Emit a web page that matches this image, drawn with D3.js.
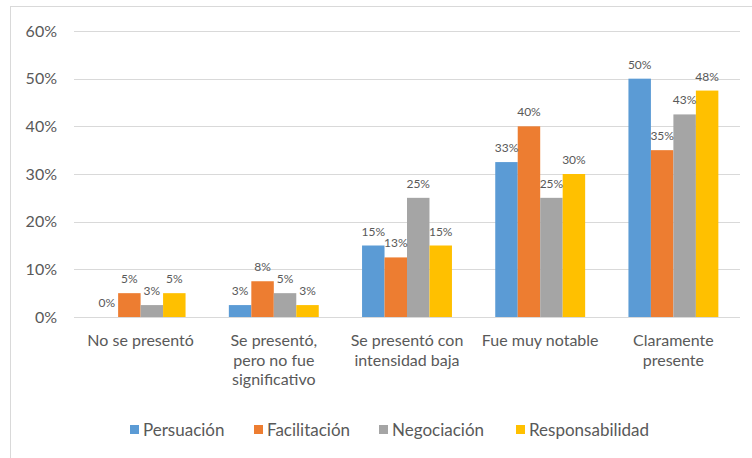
<!DOCTYPE html>
<html><head><meta charset="utf-8">
<script src="https://cdn.jsdelivr.net/npm/d3@7"></script>
<style>
html,body{margin:0;padding:0;background:#fff;}
svg text{font-family:Lato,"Open Sans",sans-serif;fill:#595959;}
</style></head>
<body>
<svg id="chart" width="752" height="458"></svg>
<script>
const categories = [
  ["No se presentó"],
  ["Se presentó,", "pero no fue", "significativo"],
  ["Se presentó con", "intensidad baja"],
  ["Fue muy notable"],
  ["Claramente", "presente"]
];
const seriesNames = ["Persuación", "Facilitación", "Negociación", "Responsabilidad"];
const persuacion = [0, 2.5, 15, 32.5, 50];
const facilitacion = [5, 7.5, 12.5, 40, 35];
const negociacion = [2.5, 5, 25, 25, 42.5];
const responsabilidad = [5, 2.5, 15, 30, 47.5];
const yTicks = [0, 10, 20, 30, 40, 50, 60];
const colors = ["#5B9BD5", "#ED7D31", "#A5A5A5", "#FFC000"];

const seriesValues = [persuacion, facilitacion, negociacion, responsabilidad];
const svg = d3.select("#chart");
const FONT = 'Lato,"Open Sans",sans-serif';

// outer chart border
svg.append("rect").attr("x", 10.5).attr("y", 6.5).attr("width", 800).attr("height", 500)
  .attr("fill", "none").attr("stroke", "#D9D9D9").attr("stroke-width", 1);

const plot = {left: 74, right: 740, top: 31, bottom: 317};
const catIdx = categories.map((d, i) => i);
const x0 = d3.scaleBand().domain(catIdx).range([plot.left, plot.right])
  .paddingInner(0.325).paddingOuter(0.1625);
const x1 = d3.scaleBand().domain(d3.range(seriesNames.length)).range([0, x0.bandwidth()]).padding(0);
const y = d3.scaleLinear().domain([0, 60]).range([plot.bottom, plot.top]);

// gridlines
svg.append("g").selectAll("line").data(yTicks).join("line")
  .attr("x1", plot.left).attr("x2", plot.right)
  .attr("y1", d => Math.round(y(d)) + 0.5).attr("y2", d => Math.round(y(d)) + 0.5)
  .attr("stroke", "#D9D9D9").attr("stroke-width", 1);

// y axis labels
const yAxis = d3.axisLeft(y).tickValues(yTicks).tickFormat(d => d + "%").tickSize(0).tickPadding(0);
const gy = svg.append("g").attr("transform", `translate(57,0)`).call(yAxis);
gy.select(".domain").remove();
gy.selectAll("text").attr("font-size", "16px").style("fill", "#595959")
  .style("font-family", FONT);

// bars
const groups = svg.append("g").selectAll("g").data(catIdx).join("g")
  .attr("transform", d => `translate(${x0(d)},0)`);
groups.selectAll("rect").data(ci => seriesValues.map((s, si) => ({si, v: s[ci]}))).join("rect")
  .attr("x", d => x1(d.si)).attr("width", x1.bandwidth())
  .attr("y", d => y(d.v)).attr("height", d => y(0) - y(d.v))
  .attr("fill", d => colors[d.si]);

// value labels
groups.selectAll("text").data(ci => seriesValues.map((s, si) => ({si, v: s[ci]}))).join("text")
  .attr("x", d => x1(d.si) + x1.bandwidth() / 2).attr("y", d => y(d.v) - 10)
  .attr("text-anchor", "middle").attr("font-size", "12px")
  .text(d => Math.round(d.v) + "%");

// x axis labels
const xl = svg.append("g").selectAll("text").data(catIdx).join("text")
  .attr("x", d => x0(d) + x0.bandwidth() / 2).attr("y", 346)
  .attr("text-anchor", "middle").attr("font-size", "16px");
xl.selectAll("tspan").data(d => categories[d]).join("tspan")
  .attr("x", function() { return d3.select(this.parentNode).attr("x"); })
  .attr("dy", (d, i) => i === 0 ? 0 : 19.5).text(d => d);

// legend
const legendX = [130, 254, 379, 516];
const lg = svg.append("g").selectAll("g").data(seriesNames).join("g")
  .attr("transform", (d, i) => `translate(${legendX[i]},430)`);
lg.append("rect").attr("x", 0).attr("y", -5).attr("width", 9).attr("height", 9)
  .attr("fill", (d, i) => colors[i]);
lg.append("text").attr("x", 13).attr("y", 5.5).attr("font-size", "17px").text(d => d);
</script>
</body></html>
